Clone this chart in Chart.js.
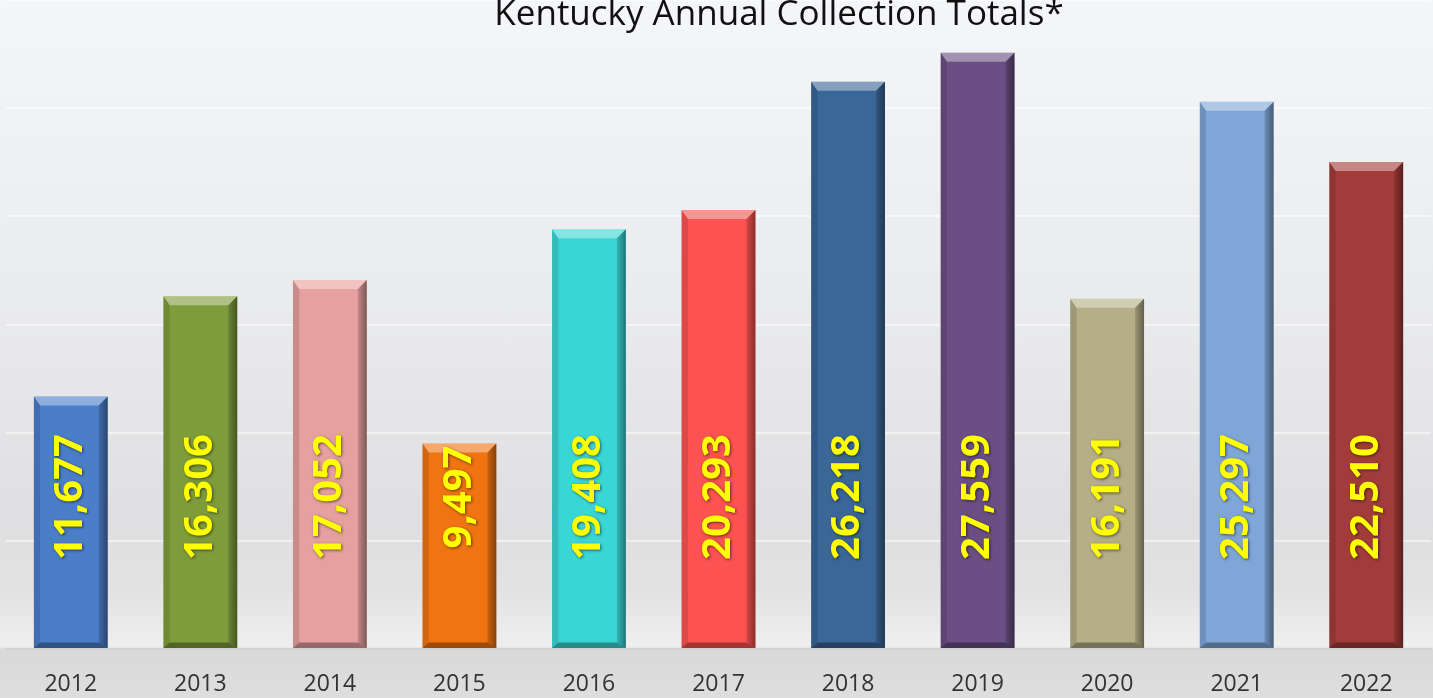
<!DOCTYPE html>
<html>
<head>
<meta charset="utf-8">
<script src="https://cdn.jsdelivr.net/npm/chart.js@4/dist/chart.umd.min.js"></script>
<style>
html, body { margin: 0; padding: 0; }
body {
  width: 1433px; height: 698px; overflow: hidden;
  background: linear-gradient(to bottom, #f5f6f9 0px, #eaebed 300px, #dfdfe1 520px, #e2e2e3 590px, #efefef 646px, #d9d9d9 650px, #dedede 698px);
}
#wrap { position: relative; width: 1433px; height: 698px; }
</style>
</head>
<body>
<div id="wrap"><canvas id="chart1"></canvas></div>
<script>
var years = ["2012","2013","2014","2015","2016","2017","2018","2019","2020","2021","2022"];
var totals = [11677,16306,17052,9497,19408,20293,26218,27559,16191,25297,22510];
var barColors = ["#4a7ec8","#7f9c3c","#e6a09f","#f07412","#3ad6d6","#fc5252","#3a6698","#6a4e84","#b5ae86","#7fa6d6","#a23c3a"];
var titleText = "Kentucky Annual Collection Totals*";

// bevel look + rotated yellow value labels
var bevelPlugin = {
  id: 'bevel',
  afterDatasetsDraw: function(chart) {
    var ctx = chart.ctx;
    var meta = chart.getDatasetMeta(0);
    meta.data.forEach(function(bar, i) {
      var p = bar.getProps(['x','y','base','width'], true);
      var l = p.x - p.width/2, r = p.x + p.width/2, t = p.y, b = p.base;
      var bv = 9;
      ctx.save();
      // top bevel
      ctx.fillStyle = 'rgba(255,255,255,0.38)';
      ctx.beginPath();
      ctx.moveTo(l, t); ctx.lineTo(r, t); ctx.lineTo(r - bv, t + bv); ctx.lineTo(l + bv*0.7, t + bv);
      ctx.closePath(); ctx.fill();
      // right side
      var g = ctx.createLinearGradient(r - bv, 0, r, 0);
      g.addColorStop(0, 'rgba(0,0,0,0.15)');
      g.addColorStop(1, 'rgba(0,0,0,0.45)');
      ctx.fillStyle = g;
      ctx.beginPath();
      ctx.moveTo(r, t); ctx.lineTo(r, b); ctx.lineTo(r - bv, b - bv*0.6); ctx.lineTo(r - bv, t + bv);
      ctx.closePath(); ctx.fill();
      // left side
      ctx.fillStyle = 'rgba(0,0,0,0.12)';
      ctx.beginPath();
      ctx.moveTo(l, t); ctx.lineTo(l + bv*0.7, t + bv); ctx.lineTo(l + bv*0.7, b - bv*0.6); ctx.lineTo(l, b);
      ctx.closePath(); ctx.fill();
      // bottom
      ctx.fillStyle = 'rgba(0,0,0,0.35)';
      ctx.beginPath();
      ctx.moveTo(l, b); ctx.lineTo(r, b); ctx.lineTo(r - bv, b - bv*0.6); ctx.lineTo(l + bv*0.7, b - bv*0.6);
      ctx.closePath(); ctx.fill();
      // value label
      ctx.translate(p.x, b - 151);
      ctx.rotate(-Math.PI/2);
      ctx.font = 'bold 40px "Open Sans", sans-serif';
      ctx.textAlign = 'center';
      ctx.textBaseline = 'middle';
      ctx.shadowColor = 'rgba(0,0,0,0.55)';
      ctx.shadowBlur = 3;
      ctx.shadowOffsetX = 1;
      ctx.shadowOffsetY = 1;
      ctx.fillStyle = '#ffff00';
      ctx.fillText(totals[i].toLocaleString('en-US'), 0, 0);
      ctx.restore();
    });
  },
  afterDraw: function(chart) {
    var ctx = chart.ctx;
    ctx.save();
    ctx.font = '35px "Open Sans", sans-serif';
    ctx.fillStyle = '#111111';
    ctx.textAlign = 'center';
    ctx.textBaseline = 'alphabetic';
    ctx.fillText(titleText, 779, 25);
    ctx.restore();
  }
};

var config = {
  type: 'bar',
  data: {
    labels: years,
    datasets: [{
      label: 'Collection Totals',
      data: totals,
      backgroundColor: barColors,
      borderWidth: 0,
      categoryPercentage: 1,
      barPercentage: 0.57
    }]
  },
  options: {
    responsive: true,
    maintainAspectRatio: false,
    animation: false,
    layout: { padding: { left: 6, right: 2, top: 0, bottom: 0 } },
    plugins: {
      legend: { display: false },
      title: { display: false },
      tooltip: { enabled: false }
    },
    scales: {
      x: {
        grid: { display: false },
        border: { display: true, color: '#d2d2d2', width: 2 },
        ticks: { color: '#333333', font: { family: 'Open Sans', size: 23, weight: '500' }, padding: 14 },
        afterFit: function(axis) { axis.height = 49; }
      },
      y: {
        min: 0, max: 30000,
        ticks: { display: false, stepSize: 5000 },
        grid: { color: 'rgba(255,255,255,0.5)', lineWidth: 2, drawTicks: false },
        border: { display: false },
        afterFit: function(axis) { axis.width = 0; }
      }
    }
  },
  plugins: [bevelPlugin]
};

var myChart = new Chart(document.getElementById('chart1'), config);
</script>
</body>
</html>
